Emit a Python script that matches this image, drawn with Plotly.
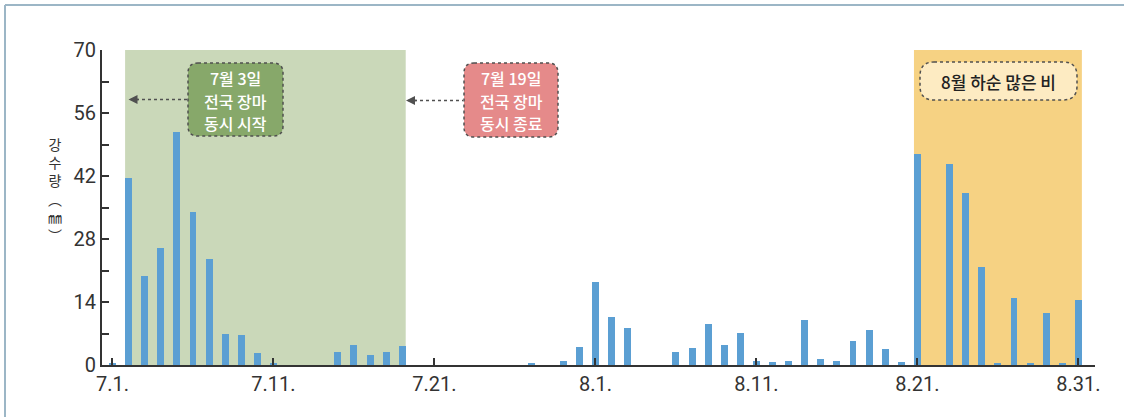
import plotly.graph_objects as go

# ---------------- data ----------------
slots = list(range(61))  # day slots 7.1 ... 8.31 as drawn
rain = [0.4, 41.5, 19.7, 25.9, 51.7, 33.9, 23.5, 7.0, 6.6, 2.6,
        0.5, 0, 0, 0, 2.8, 4.4, 2.2, 2.8, 4.3, 0,
        0, 0, 0, 0, 0, 0, 0.5, 0, 0.8, 3.9,
        18.5, 10.7, 8.2, 0, 0, 3.0, 3.7, 9.2, 4.5, 7.2,
        0.9, 0.6, 1.0, 10.1, 1.3, 0.8, 5.3, 7.7, 3.6, 0.6,
        47.0, 0, 44.7, 38.3, 21.8, 0.4, 14.8, 0.4, 11.6, 0.4,
        14.5]
tick_slots = [0, 10, 20, 30, 40, 50, 60]
tick_labels = ["7.1.", "7.11.", "7.21.", "8.1.", "8.11.", "8.21.", "8.31."]
y_ticks = [0, 7, 14, 21, 28, 35, 42, 49, 56, 63, 70]
y_labels = ["0", "", "14", "", "28", "", "42", "", "56", "", "70"]
monsoon = (1, 18)      # 7월 3일 ~ 7월 19일
late_aug = (50, 60)    # 8월 하순
box_start = ["7월 3일", "전국 장마", "동시 시작"]
box_end = ["7월 19일", "전국 장마", "동시 종료"]
box_aug = "8월 하순 많은 비"
y_title = ["강", "수", "량", "︵", "㎜", "︶"]

# ---------------- layout constants ----------------
W, H = 1124, 417
ML, MR, MT, MB = 102, 29, 50, 52
XR = [-0.65, 61.03]
YR = [0, 70]
BW = 0.43
FONT_KR = "Noto Sans CJK KR"
FONT_NUM = "Roboto"

pw = W - ML - MR
ph = H - MT - MB


def px2x(px):
    return XR[0] + (px - ML) / pw * (XR[1] - XR[0])


def py2y(py):
    return YR[0] + (H - MB - py) / ph * (YR[1] - YR[0])


def rrect(x0p, x1p, y0p, y1p, r):
    # rounded rectangle path in data coords from pixel box
    x0, x1 = px2x(x0p), px2x(x1p)
    yt, yb = py2y(y0p), py2y(y1p)
    rx = px2x(ML + r) - px2x(ML)
    ry = py2y(H - MB - r) - py2y(H - MB)
    return (f"M {x0+rx},{yt} L {x1-rx},{yt} Q {x1},{yt} {x1},{yt-ry} "
            f"L {x1},{yb+ry} Q {x1},{yb} {x1-rx},{yb} "
            f"L {x0+rx},{yb} Q {x0},{yb} {x0},{yb+ry} "
            f"L {x0},{yt-ry} Q {x0},{yt} {x0+rx},{yt} Z")


fig = go.Figure()
fig.add_trace(go.Bar(x=slots, y=rain, width=BW, marker=dict(color="#5b9fd3", line=dict(width=0)),
                     hoverinfo="skip"))

shapes = []
# shaded periods
shapes.append(dict(type="rect", xref="x", yref="y", x0=monsoon[0] - BW / 2, x1=monsoon[1] + BW / 2,
                   y0=0, y1=70, fillcolor="#cad8b9", line=dict(width=0), layer="below"))
shapes.append(dict(type="rect", xref="x", yref="y", x0=late_aug[0] - BW / 2, x1=late_aug[1] + BW / 2,
                   y0=0, y1=70, fillcolor="#f6d283", line=dict(width=0), layer="below"))

# annotation boxes
shapes.append(dict(type="path", xref="x", yref="y", path=rrect(188, 283, 63, 136, 10),
                   fillcolor="#87a86a", line=dict(color="#505050", width=1.5, dash="dot")))
shapes.append(dict(type="path", xref="x", yref="y", path=rrect(464, 558, 63, 137, 10),
                   fillcolor="#e58a8a", line=dict(color="#505050", width=1.5, dash="dot")))
shapes.append(dict(type="path", xref="x", yref="y", path=rrect(920, 1077, 62, 100, 14),
                   fillcolor="#fdebc2", line=dict(color="#505050", width=1.5, dash="dot")))

# dotted arrow lines
shapes.append(dict(type="line", xref="x", yref="y", x0=px2x(136), x1=px2x(187), y0=py2y(99.5), y1=py2y(99.5),
                   line=dict(color="#505050", width=1.5, dash="dot")))
shapes.append(dict(type="line", xref="x", yref="y", x0=px2x(414), x1=px2x(463), y0=py2y(100.5), y1=py2y(100.5),
                   line=dict(color="#505050", width=1.5, dash="dot")))

# outer frame (top and left)
shapes.append(dict(type="line", xref="paper", yref="paper",
                   x0=(5 - ML) / pw, x1=(W - ML) / pw, y0=(H - MB - 5) / ph, y1=(H - MB - 5) / ph,
                   line=dict(color="#9cb6c6", width=2)))
shapes.append(dict(type="line", xref="paper", yref="paper",
                   x0=(5 - ML) / pw, x1=(5 - ML) / pw, y0=(H - MB - 5) / ph, y1=-MB / ph,
                   line=dict(color="#9cb6c6", width=2)))

annotations = []
for lines, cx, color in [(box_start, 235.5, "white"), (box_end, 511, "white")]:
    for i, line in enumerate(lines):
        annotations.append(dict(x=px2x(cx), y=py2y(78 + 22.5 * i), xref="x", yref="y", showarrow=False,
                                text=line, font=dict(family=FONT_KR, size=16, color=color, weight=500)))
annotations.append(dict(x=px2x(998.5), y=py2y(81), xref="x", yref="y", showarrow=False,
                        text=box_aug,
                        font=dict(family=FONT_KR, size=17, color="#222222", weight=500)))
# arrowheads
for tip_px, tail_px, ypx in [(128.5, 140, 99.5), (406, 418, 100.5)]:
    annotations.append(dict(x=px2x(tip_px), y=py2y(ypx), xref="x", yref="y", text="",
                            showarrow=True, arrowhead=2, arrowsize=1.2, arrowwidth=1.5,
                            arrowcolor="#505050", ax=tail_px - tip_px, ay=0))
# vertical y-axis title (upright stacked characters)
annotations.append(dict(x=(46 - ML) / pw, y=(H - MB - 189) / ph, xref="paper", yref="paper",
                        text="<br>".join(y_title), showarrow=False,
                        font=dict(family=FONT_KR, size=14, color="#333333")))

fig.update_layout(
    width=W, height=H,
    margin=dict(l=ML, r=MR, t=MT, b=MB, pad=0),
    paper_bgcolor="white", plot_bgcolor="white",
    showlegend=False, bargap=0,
    shapes=shapes, annotations=annotations,
    xaxis=dict(range=XR, tickmode="array", tickvals=tick_slots, ticktext=tick_labels,
               ticks="inside", ticklen=7, tickwidth=1.5, tickcolor="#333333",
               showline=True, linecolor="#333333", linewidth=2, showgrid=False, zeroline=False,
               tickfont=dict(family=FONT_NUM, size=20, color="#333333")),
    yaxis=dict(range=YR, tickmode="array", tickvals=y_ticks, ticktext=y_labels,
               ticks="inside", ticklen=7, tickwidth=1.5, tickcolor="#333333",
               showline=True, linecolor="#333333", linewidth=2, showgrid=False, zeroline=False,
               tickfont=dict(family=FONT_NUM, size=20, color="#333333")),
)

fig.write_html("out.html", config={"displayModeBar": False},
               post_script="document.body.style.margin='0px';")
